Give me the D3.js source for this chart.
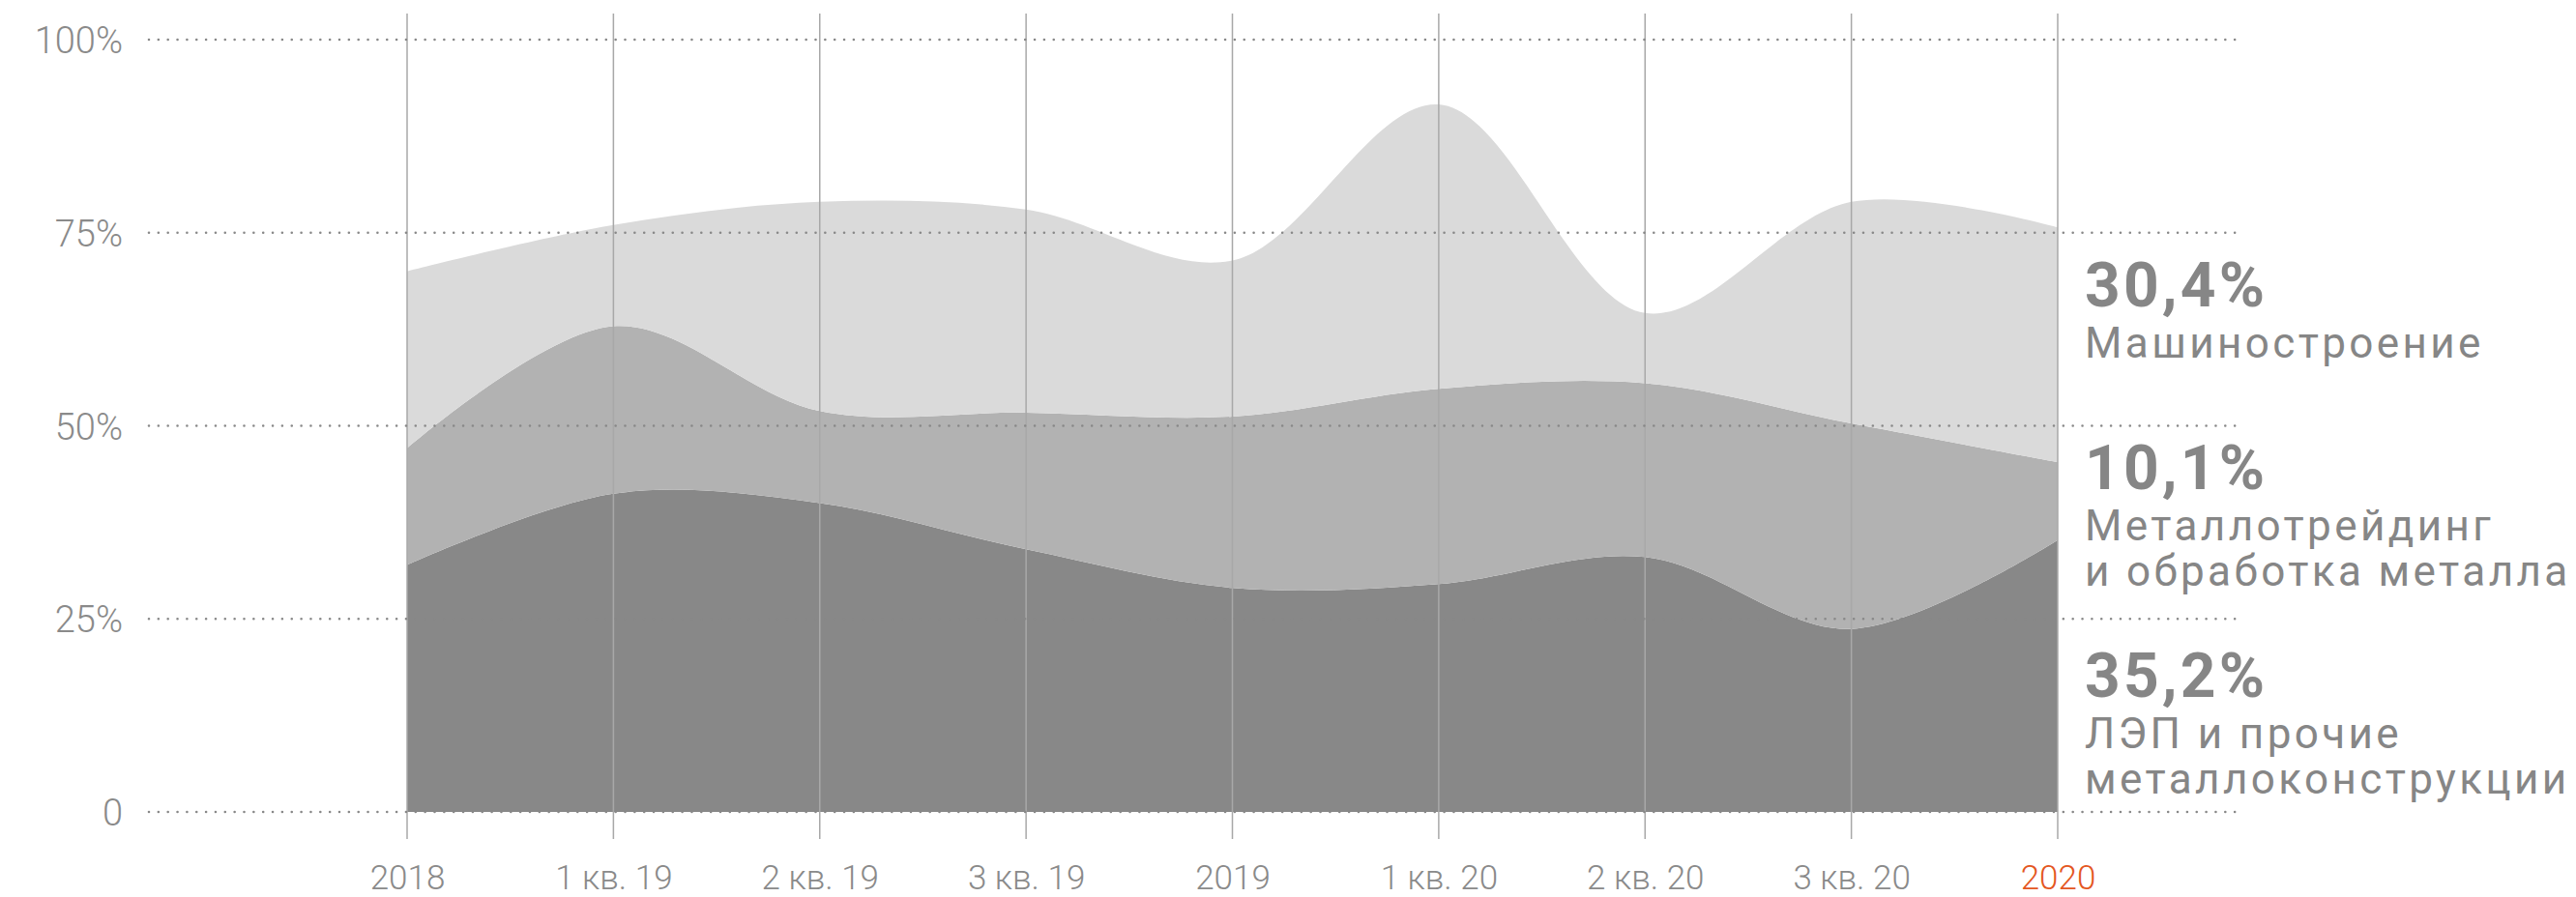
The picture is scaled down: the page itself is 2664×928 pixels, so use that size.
<!DOCTYPE html>
<html><head><meta charset="utf-8">
<script src="https://cdn.jsdelivr.net/npm/d3@7"></script>
<style>
html,body{margin:0;padding:0;background:#fff;}
svg{display:block;}
</style></head>
<body>
<svg id="chart" width="2664" height="928"></svg>
<script>
// ---- data ----
const categories = ["2018","1 кв. 19","2 кв. 19","3 кв. 19","2019","1 кв. 20","2 кв. 20","3 кв. 20","2020"];
const lepValues     = [32.0, 41.2, 40.0, 34.0, 29.0, 29.5, 33.0, 23.7, 35.2]; // ЛЭП и прочие металлоконструкции
const tradingValues = [15.1, 21.7, 11.9, 17.7, 22.2, 25.3, 22.5, 26.6, 10.1]; // Металлотрейдинг
const machineValues = [22.9, 13.1, 27.1, 26.3, 20.2, 36.8,  9.1, 28.7, 30.4]; // Машиностроение
const yTicks = [0, 25, 50, 75, 100];
const yTickLabels = ["0", "25%", "50%", "75%", "100%"];
const seriesKeys = ["lep", "trading", "machine"];
const seriesColors = {lep: "#888888", trading: "#b2b2b2", machine: "#dadada"};
const labels = [
  {key: "machine", value: "30,4%", lines: ["Машиностроение"]},
  {key: "trading", value: "10,1%", lines: ["Металлотрейдинг", "и обработка металла"]},
  {key: "lep",     value: "35,2%", lines: ["ЛЭП и прочие", "металлоконструкции"]}
];

// ---- layout ----
const svg = d3.select("#chart");
const x = d3.scalePoint().domain(categories).range([421, 2128]);
const y = d3.scaleLinear().domain([0, 100]).range([840, 41]);
const textColor = "#8a8a8a";

const rows = categories.map((c, i) => ({cat: c, lep: lepValues[i], trading: tradingValues[i], machine: machineValues[i]}));
const stacked = d3.stack().keys(seriesKeys)(rows);

const area = d3.area()
  .x(d => x(d.data.cat))
  .y0(d => y(d[0]))
  .y1(d => y(d[1]))
  .curve(d3.curveCatmullRom.alpha(0.5));

svg.append("g").selectAll("path").data(stacked).join("path")
  .attr("d", area)
  .attr("fill", d => seriesColors[d.key]);

// vertical lines
svg.append("g").selectAll("line").data(categories).join("line")
  .attr("x1", d => x(d)).attr("x2", d => x(d))
  .attr("y1", 14).attr("y2", 868)
  .attr("stroke", "#a8a8a8").attr("stroke-width", 1.5);

// dotted horizontal gridlines
svg.append("g").selectAll("line").data(yTicks).join("line")
  .attr("x1", 154).attr("x2", 2312)
  .attr("y1", d => y(d)).attr("y2", d => y(d))
  .attr("stroke", "#888").attr("stroke-width", 2.6)
  .attr("stroke-linecap", "round")
  .attr("stroke-dasharray", "0,9.85");

// y axis labels
const yAxis = d3.axisLeft(y).tickValues(yTicks)
  .tickFormat((d, i) => yTickLabels[i]).tickSize(0).tickPadding(0);
const gy = svg.append("g").attr("transform", "translate(127,0)").call(yAxis);
gy.select(".domain").remove();
gy.selectAll("text")
  .attr("fill", textColor)
  .attr("font-family", "Roboto, sans-serif")
  .attr("font-weight", 300)
  .attr("font-size", 38)
  .attr("dy", "0.36em");

// x axis labels
const xAxis = d3.axisBottom(x).tickSize(0).tickPadding(0);
const gx = svg.append("g").attr("transform", "translate(0,920)").call(xAxis);
gx.select(".domain").remove();
gx.selectAll("text")
  .attr("dy", 0).attr("y", 0)
  .attr("fill", (d, i) => i === categories.length - 1 ? "#e4571f" : textColor)
  .attr("font-family", "Roboto, sans-serif")
  .attr("font-weight", 300)
  .attr("font-size", 35);

// right-hand labels (one text block per series)
const labelX = 2156;
const labelY = {machine: 317, trading: 506, lep: 721};
labels.forEach(l => {
  const t = svg.append("text")
    .attr("x", labelX).attr("y", labelY[l.key])
    .attr("fill", "#868686")
    .attr("font-family", "Roboto, sans-serif");
  t.append("tspan")
    .attr("x", labelX).attr("y", labelY[l.key])
    .attr("font-weight", 700)
    .attr("font-size", 64)
    .attr("letter-spacing", 3.2)
    .text(l.value);
  l.lines.forEach((s, j) => {
    t.append("tspan")
      .attr("x", labelX).attr("y", labelY[l.key] + 53 + j * 47)
      .attr("font-weight", 400)
      .attr("font-size", 44)
      .attr("letter-spacing", 3.4)
      .text(s);
  });
});
</script>
</body></html>
